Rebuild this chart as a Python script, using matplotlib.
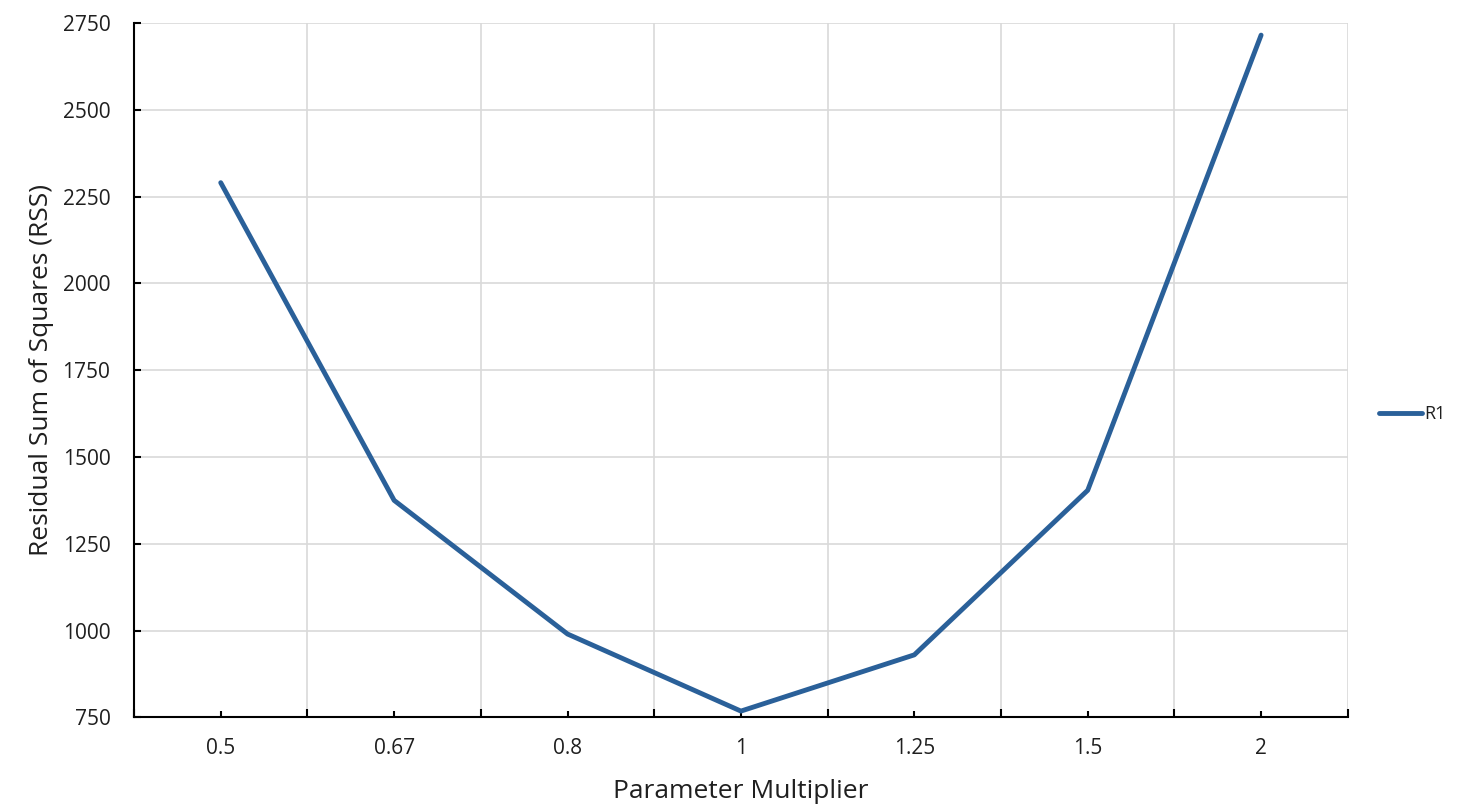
import matplotlib.pyplot as plt
from matplotlib.ticker import FixedLocator, NullFormatter

# data
multipliers = ['0.5', '0.67', '0.8', '1', '1.25', '1.5', '2']
rss = [2290, 1375, 990, 768, 930, 1404, 2715]
y_ticks = [750, 1000, 1250, 1500, 1750, 2000, 2250, 2500, 2750]

plt.rcParams['font.family'] = ['Open Sans', 'DejaVu Sans']

fig = plt.figure(figsize=(14.73, 8.06), dpi=100)
ax = fig.add_axes([0.091, 0.110, 0.824, 0.8615])

x = list(range(len(multipliers)))
ax.plot(x, rss, color='#2a6099', linewidth=3.5, solid_capstyle='round',
        solid_joinstyle='round', label='R1', zorder=3)

# category axis: grid at category boundaries, labels at centres
ax.set_xlim(-0.5, len(multipliers) - 0.5)
ax.xaxis.set_major_locator(FixedLocator([i - 0.5 for i in range(len(multipliers) + 1)]))
ax.xaxis.set_major_formatter(NullFormatter())
ax.xaxis.set_minor_locator(FixedLocator(x))
ax.set_xticklabels(multipliers, minor=True)

ax.set_ylim(750, 2750)
ax.set_yticks(y_ticks)

ax.grid(True, which='major', color='#d9d9d9', linewidth=1.2, zorder=0)
ax.set_axisbelow(True)

for s in ['top', 'right']:
    ax.spines[s].set_visible(False)
for s in ['left', 'bottom']:
    ax.spines[s].set_color('black')
    ax.spines[s].set_linewidth(1.5)
    ax.spines[s].set_zorder(4)

ax.tick_params(axis='x', which='major', direction='in', length=6, width=1.5, color='black')
ax.tick_params(axis='x', which='minor', direction='in', length=4, width=1.5, color='black',
               labelsize=15, pad=15, labelcolor='#1f1f1f')
ax.tick_params(axis='y', direction='in', length=5, width=1.5, color='black',
               labelsize=15, pad=17, labelcolor='#1f1f1f')

ax.set_xlabel('Parameter Multiplier', fontsize=19, color='#1f1f1f', labelpad=14)
ax.set_ylabel('Residual Sum of Squares (RSS)', fontsize=19, color='#1f1f1f', labelpad=6)

ax.legend(loc='center left', bbox_to_anchor=(1.012, 0.437), frameon=False,
          fontsize=13, handlelength=2.4, handletextpad=0.15, labelcolor='#1f1f1f')

fig.savefig('out.png', dpi=100)
